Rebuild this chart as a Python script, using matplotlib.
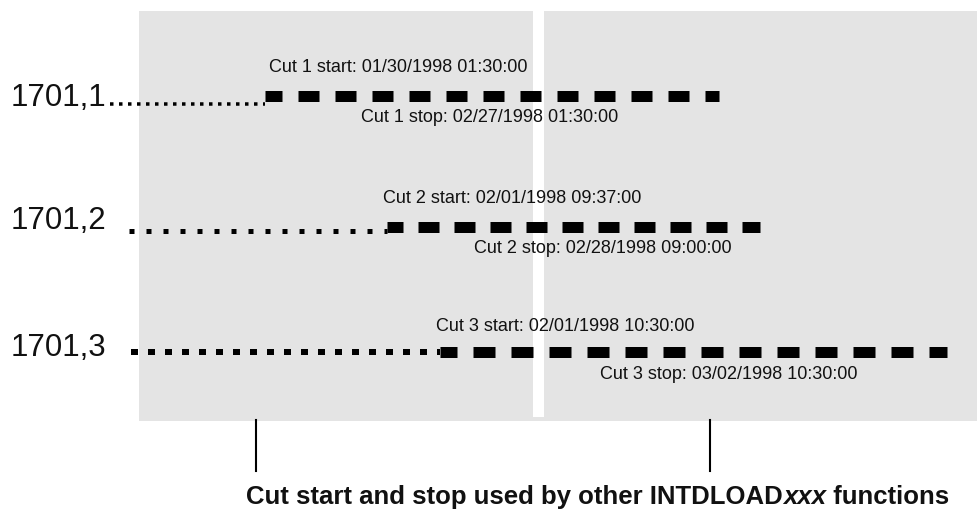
import matplotlib
matplotlib.use("Agg")
import matplotlib.pyplot as plt
from matplotlib.patches import Rectangle

plt.rcParams['font.family'] = ['Liberation Sans', 'DejaVu Sans']
plt.rcParams['lines.scale_dashes'] = False

# schematic timeline (horizontal position of each cut)
rows = ["1701,1", "1701,2", "1701,3"]
lead_start = [110, 129, 131]
cut_start = [265, 387, 440]
cut_stop = [719, 760, 947]
start_labels = ["Cut 1 start: 01/30/1998 01:30:00",
                "Cut 2 start: 02/01/1998 09:37:00",
                "Cut 3 start: 02/01/1998 10:30:00"]
stop_labels = ["Cut 1 stop: 02/27/1998 01:30:00",
               "Cut 2 stop: 02/28/1998 09:00:00",
               "Cut 3 stop: 03/02/1998 10:30:00"]
markers = [256, 710]

PX = 0.72  # points per pixel at dpi 100

fig = plt.figure(figsize=(9.78, 5.10), dpi=100)
ax = fig.add_axes([0, 0, 1, 1])
ax.set_xlim(0, 978)
ax.set_ylim(510, 0)
ax.axis('off')

# background panels
ax.add_patch(Rectangle((139, 12), 839, 410, color='#e4e4e4', lw=0))
ax.add_patch(Rectangle((533, 12), 11, 406, color='white', lw=0))

row_y = [97, 228, 353]
lead_y = [105, 232, 353]
lead_style = [(3.5, 3.5, 5.5), (5, 5, 12), (6, 7, 10)]  # height, on, off (px)
dash_style = [(4, 21, 16), (5, 21, 15), (5, 22, 16)]     # offset, on, off (px)
label_y = [98, 221, 348]
start_x = [269, 383, 436]
start_y = [67, 199, 327]
stop_x = [361, 474, 600]
stop_y = [117, 249, 375]

for i, name in enumerate(rows):
    h, on, off = lead_style[i]
    ax.plot([lead_start[i], cut_start[i]], [lead_y[i], lead_y[i]], color='black',
            lw=h * PX, linestyle=(0, (on * PX, off * PX)), dash_capstyle='butt')
    o, on, off = dash_style[i]
    ax.plot([cut_start[i], cut_stop[i]], [row_y[i], row_y[i]], color='black',
            lw=11 * PX, linestyle=(o * PX, (on * PX, off * PX)),
            dash_capstyle='butt')
    ax.text(11, label_y[i], name, fontsize=22.5, ha='left', va='center', color='#111111')
    ax.text(start_x[i], start_y[i], start_labels[i],
            fontsize=13, ha='left', va='center', color='#111111')
    ax.text(stop_x[i], stop_y[i], stop_labels[i], fontsize=13, ha='left',
            va='center', color='#111111')

for m in markers:
    ax.plot([m, m], [421, 472], color='black', lw=1.5)

t1 = ax.text(246, 497, "Cut start and stop used by other INTDLOAD", fontsize=18.5,
             fontweight='bold', ha='left', va='center', color='#111111')
t2 = ax.annotate("xxx", xy=(1, 0), xycoords=t1, ha='left', va='bottom',
                 fontsize=18.5, fontweight='bold', fontstyle='italic', color='#111111')
ax.annotate(" functions", xy=(1, 0), xycoords=t2, ha='left', va='bottom',
            fontsize=18.5, fontweight='bold', color='#111111')

fig.savefig("out.png", dpi=100)
